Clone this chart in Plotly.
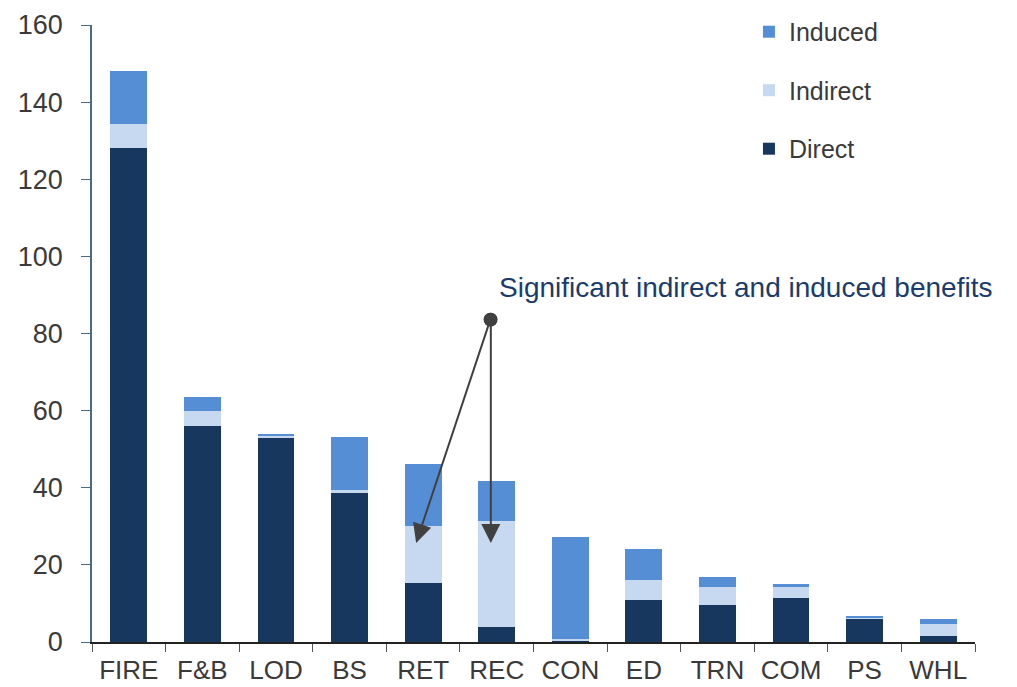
import plotly.graph_objects as go

categories = ["FIRE", "F&B", "LOD", "BS", "RET", "REC", "CON", "ED", "TRN", "COM", "PS", "WHL"]
direct = [128.1, 56.0, 53.0, 38.6, 15.3, 3.9, 0.3, 10.9, 9.6, 11.4, 6.0, 1.6]
indirect = [6.1, 3.9, 0.6, 0.8, 14.8, 27.5, 0.5, 5.2, 4.7, 2.9, 0.3, 3.1]
induced = [13.9, 3.6, 0.3, 13.8, 16.1, 10.4, 26.4, 8.0, 2.6, 0.8, 0.4, 1.3]

DIRECT = "#17375e"
INDIRECT = "#c6d9f1"
INDUCED = "#558ed5"
TEXT = "#3a3a3a"
FONT = "Liberation Sans, Arial, sans-serif"

fig = go.Figure()
for rank, (name, vals, color) in enumerate([("Direct", direct, DIRECT),
                                            ("Indirect", indirect, INDIRECT),
                                            ("Induced", induced, INDUCED)]):
    fig.add_trace(go.Bar(
        x=categories, y=vals, name=name,
        marker=dict(color=color, line=dict(width=0)),
        legendgroup=name, legendrank=3 - rank,
    ))

# callout arrows
arrow_tail = (4.92, 84)
for tx, ty in [(3.905, 25.7), (4.92, 25.7)]:
    fig.add_annotation(
        x=tx, y=ty, xref="x", yref="y",
        ax=arrow_tail[0], ay=arrow_tail[1], axref="x", ayref="y",
        showarrow=True, arrowhead=2, arrowsize=1.9, arrowwidth=2,
        arrowcolor="#404040", arrowside="end+start",
        startarrowhead=6, startarrowsize=1.7, text="",
    )
fig.add_annotation(
    x=5.0, y=92, xref="x", yref="y", xanchor="left", yanchor="middle",
    text="Significant indirect and induced benefits", showarrow=False,
    font=dict(family=FONT, size=28, color="#1b3c6b"),
)

fig.update_layout(
    barmode="stack",
    bargap=0.5,
    width=1017, height=687,
    plot_bgcolor="white", paper_bgcolor="white",
    font=dict(family=FONT, size=27, color=TEXT),
    margin=dict(l=92, r=42, t=25, b=45, autoexpand=False),
    legend=dict(
        x=0.744, y=1.026, xanchor="left", yanchor="top",
        traceorder="grouped", tracegroupgap=23,
        font=dict(family=FONT, size=25, color=TEXT),
        itemwidth=30,
    ),
    xaxis=dict(
        range=[-0.5, 11.5], showline=True, linecolor="#222222", linewidth=1.5,
        ticks="outside", tickson="boundaries", ticklen=8, tickcolor="#555555",
        showgrid=False, tickfont=dict(size=26, color=TEXT), ticklabelstandoff=4,
    ),
    yaxis=dict(
        range=[0, 160], dtick=20, showline=True, linecolor="#4a6b85", linewidth=1.5,
        ticks="outside", ticklen=9, tickcolor="#4a6b85",
        showgrid=False, zeroline=False, tickfont=dict(size=27, color=TEXT),
        ticklabelstandoff=13,
    ),
)

fig.write_html("out.html", config={"displayModeBar": False},
               post_script="document.body.style.margin='0';")
